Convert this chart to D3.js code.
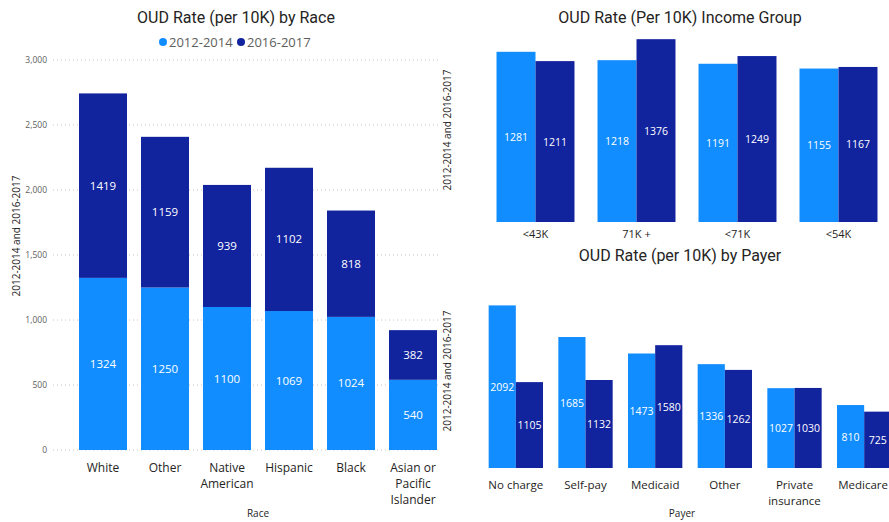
<!doctype html>
<html>
  <head>
    <meta charset="utf-8" />
    <title>OUD Rate</title>
    <script src="https://cdn.jsdelivr.net/npm/d3@7"></script>
    <style>
      html,
      body {
        margin: 0;
        overflow: hidden;
        background: #fff;
      }
      text {
        font-family: "Open Sans", "Noto Sans", sans-serif;
      }
      .title {
        font-family: Roboto, "DejaVu Sans Condensed", sans-serif;
        font-size: 16px;
        fill: #252423;
      }
    </style>
  </head>
  <body>
    <script>
      // Data
      const seriesNames = ["2012-2014", "2016-2017"];
      const colors = ["#118DFF", "#12239E"];

      const races = ["White", "Other", "Native American", "Hispanic", "Black", "Asian or Pacific Islander"];
      const raceEarly = [1324, 1250, 1100, 1069, 1024, 540];
      const raceLate = [1419, 1159, 939, 1102, 818, 382];
      const raceTicks = [0, 500, 1000, 1500, 2000, 2500, 3000];

      const incomeGroups = ["<43K", "71K +", "<71K", "<54K"];
      const incomeEarly = [1281, 1218, 1191, 1155];
      const incomeLate = [1211, 1376, 1249, 1167];

      const payers = ["No charge", "Self-pay", "Medicaid", "Other", "Private insurance", "Medicare"];
      const payerEarly = [2092, 1685, 1473, 1336, 1027, 810];
      const payerLate = [1105, 1132, 1580, 1262, 1030, 725];

      const width = 889;
      const height = 522;
      const yTitle = "2012-2014 and 2016-2017";

      const svg = d3
        .select("body")
        .append("svg")
        .attr("width", width)
        .attr("height", height);

      // wrap labels into lines
      const labelLines = {
        "Native American": ["Native", "American"],
        "Asian or Pacific Islander": ["Asian or", "Pacific", "Islander"],
        "Private insurance": ["Private", "insurance"],
      };

      function catLabels(g, scale, cats, y, size) {
        cats.forEach((c) => {
          const lines = labelLines[c] || [c];
          const cx = scale(c) + scale.bandwidth() / 2;
          const t = g
            .append("text")
            .attr("x", cx)
            .attr("y", y)
            .attr("text-anchor", "middle")
            .attr("font-size", size)
            .attr("fill", "#252423");
          lines.forEach((l, i) =>
            t
              .append("tspan")
              .attr("x", cx)
              .attr("dy", i === 0 ? 0 : 16)
              .text(l),
          );
          // keep the label inside the page
          const box = t.node().getBBox();
          if (box.x + box.width > width - 1) {
            t.attr("transform", `translate(${width - 1 - box.x - box.width},0)`);
          }
        });
      }

      function yAxisTitle(g, x, y) {
        g.append("text")
          .attr("transform", `translate(${x},${y}) rotate(-90)`)
          .attr("text-anchor", "middle")
          .attr("font-size", 10)
          .attr("fill", "#252423")
          .text(yTitle);
      }

      // ---------- Race chart (stacked) ----------
      const race = svg.append("g");
      const xRace = d3.scaleBand().domain(races).range([72, 444]).paddingInner(0.226).paddingOuter(0.113);
      const yRace = d3.scaleLinear().domain([0, 3000]).range([450, 60]);

      race
        .append("text")
        .attr("class", "title")
        .attr("x", 236)
        .attr("y", 23)
        .attr("text-anchor", "middle")
        .text("OUD Rate (per 10K) by Race");

      // legend
      const legend = race.append("g").attr("font-size", 13).attr("fill", "#605E5C");
      [163, 241].forEach((lx, i) => {
        legend.append("circle").attr("cx", lx).attr("cy", 42).attr("r", 4).attr("fill", colors[i]);
        legend
          .append("text")
          .attr("x", lx + 6)
          .attr("y", 46.5)
          .text(seriesNames[i]);
      });

      // gridlines + ticks
      race
        .append("g")
        .selectAll("line")
        .data(raceTicks)
        .join("line")
        .attr("x1", 53)
        .attr("x2", 438)
        .attr("y1", (d) => yRace(d))
        .attr("y2", (d) => yRace(d))
        .attr("stroke", "#C8C6C4")
        .attr("stroke-dasharray", "1,3");
      race
        .append("g")
        .selectAll("text")
        .data(raceTicks)
        .join("text")
        .attr("x", 47)
        .attr("y", (d) => yRace(d) + 3)
        .attr("text-anchor", "end")
        .attr("font-size", 8.5)
        .attr("fill", "#605E5C")
        .text((d) => d3.format(",")(d));

      yAxisTitle(race, 20, 236);

      const stackRows = races.map((r, i) => ({ cat: r, a: raceEarly[i], b: raceLate[i] }));
      const stacked = d3.stack().keys(["a", "b"])(stackRows);
      stacked.forEach((layer, li) => {
        const lg = race.append("g");
        lg.selectAll("rect")
          .data(layer)
          .join("rect")
          .attr("x", (d) => xRace(d.data.cat))
          .attr("width", xRace.bandwidth())
          .attr("y", (d) => yRace(d[1]))
          .attr("height", (d) => yRace(d[0]) - yRace(d[1]))
          .attr("fill", colors[li]);
        lg.selectAll("text")
          .data(layer)
          .join("text")
          .attr("x", (d) => xRace(d.data.cat) + xRace.bandwidth() / 2)
          .attr("y", (d) => (yRace(d[0]) + yRace(d[1])) / 2 + 4)
          .attr("text-anchor", "middle")
          .attr("font-size", 11.5)
          .attr("fill", "#fff")
          .text((d) => d[1] - d[0]);
      });

      catLabels(race, xRace, races, 472, 12);
      race
        .append("text")
        .attr("x", 258)
        .attr("y", 517)
        .attr("text-anchor", "middle")
        .attr("font-size", 10)
        .attr("fill", "#252423")
        .text("Race");

      // ---------- Clustered charts ----------
      function clustered(opts) {
        const g = svg.append("g");
        const x0 = d3.scaleBand().domain(opts.cats).range(opts.xRange).paddingInner(opts.pad).paddingOuter(opts.pad / 2);
        const x1 = d3.scaleBand().domain([0, 1]).range([0, x0.bandwidth()]);
        const y = d3.scaleLinear().domain(opts.yDomain).range(opts.yRange);

        g.append("text")
          .attr("class", "title")
          .attr("x", 680)
          .attr("y", opts.titleY)
          .attr("text-anchor", "middle")
          .text(opts.title);

        yAxisTitle(g, 451, opts.yTitleY);

        const rows = opts.cats.map((c, i) => ({ cat: c, vals: [opts.early[i], opts.late[i]] }));
        const grp = g
          .selectAll("g.grp")
          .data(rows)
          .join("g")
          .attr("class", "grp")
          .attr("transform", (d) => `translate(${x0(d.cat)},0)`);
        grp
          .selectAll("rect")
          .data((d) => d.vals)
          .join("rect")
          .attr("x", (d, i) => x1(i))
          .attr("width", x1.bandwidth())
          .attr("y", (d) => y(d))
          .attr("height", (d) => y(0) - y(d))
          .attr("fill", (d, i) => colors[i]);
        grp
          .selectAll("text")
          .data((d) => d.vals)
          .join("text")
          .attr("x", (d, i) => x1(i) + x1.bandwidth() / 2)
          .attr("y", (d) => (y(d) + y(0)) / 2 + 4)
          .attr("text-anchor", "middle")
          .attr("font-size", 10.5)
          .attr("fill", "#fff")
          .text((d) => d);

        catLabels(g, x0, opts.cats, opts.labelY, opts.labelSize);
        if (opts.axisName) {
          g.append("text")
            .attr("x", 682)
            .attr("y", opts.axisNameY)
            .attr("text-anchor", "middle")
            .attr("font-size", 10)
            .attr("fill", "#252423")
            .text(opts.axisName);
        }
      }

      clustered({
        cats: incomeGroups,
        early: incomeEarly,
        late: incomeLate,
        xRange: [485, 889],
        pad: 0.228,
        yDomain: [0, 1400],
        yRange: [222, 36],
        title: "OUD Rate (Per 10K) Income Group",
        titleY: 23,
        yTitleY: 130,
        labelY: 238,
        labelSize: 11,
      });

      clustered({
        cats: payers,
        early: payerEarly,
        late: payerLate,
        xRange: [481, 899],
        pad: 0.22,
        yDomain: [0, 2200],
        yRange: [468, 297],
        title: "OUD Rate (per 10K) by Payer",
        titleY: 261,
        yTitleY: 371,
        labelY: 489,
        labelSize: 11.5,
        axisName: "Payer",
        axisNameY: 517,
      });
    </script>
  </body>
</html>
